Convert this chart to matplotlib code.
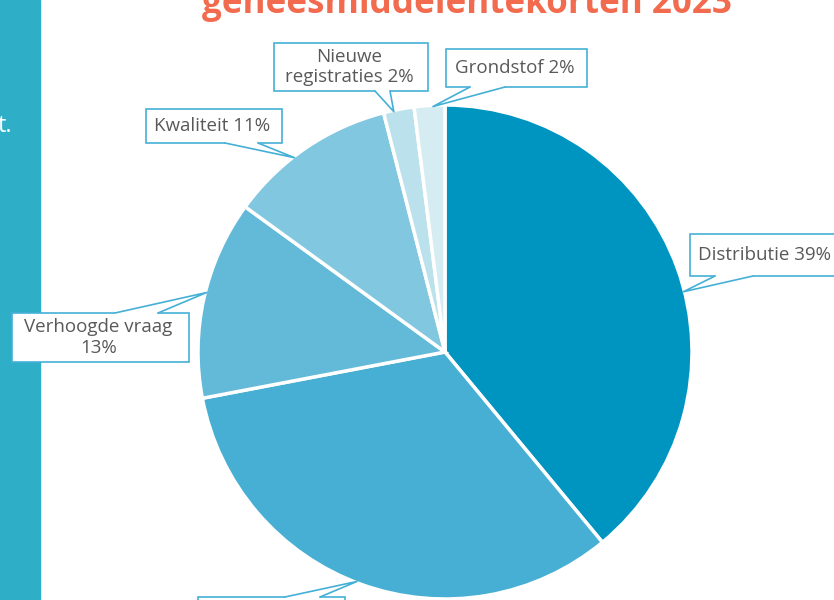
import numpy as np
import matplotlib.pyplot as plt
from matplotlib.patches import Rectangle, Polygon

# oorzaken geneesmiddelentekorten 2023
labels = ["Distributie 39%", "Productie 33%", "Verhoogde vraag\n13%", "Kwaliteit 11%",
          "Nieuwe\nregistraties 2%", "Grondstof 2%"]
values = [39, 33, 13, 11, 2, 2]
colors = ["#0095C1", "#47AFD3", "#62BAD8", "#82C7E0", "#BBE1EC", "#D5ECF3"]

W, H = 834, 600
cx, cy, R = 445, 352, 247   # pie centre / radius in pixels

def px(x, y):
    # pixel position -> data coords (pie radius = 1)
    return (x - cx) / R, (cy - y) / R

# callout boxes in pixels: (x0, y0, x1, y1), side of the pointer, pointer base
boxes = [(690, 234, 850, 276), (198, 597, 345, 645), (12, 313, 189, 362),
         (146, 109, 282, 143), (274, 43, 428, 91), (446, 49, 587, 87)]
sides = ["bottom", "top", "top", "bottom", "bottom", "bottom"]
bases = [(715, 753), (285, 320), (115, 158), (225, 258), (375, 390), (470, 505)]
tip_frac = [0.54, 0.51, 0.53, 0.41, 0.33, 0.61]   # where the pointer hits the slice

edge = "#45B0D6"
plt.rcParams['font.family'] = ['Open Sans', 'DejaVu Sans']

fig = plt.figure(figsize=(W / 100, H / 100), dpi=100)
ax = fig.add_axes([0, 0, 1, 1])

wedges, _ = ax.pie(values, colors=colors, startangle=90, counterclock=False,
                   radius=1, wedgeprops=dict(edgecolor="white", linewidth=2.5))

for w, lab, (x0, y0, x1, y1), side, (b0, b1), f in zip(wedges, labels, boxes, sides,
                                                        bases, tip_frac):
    ang = np.deg2rad(w.theta2 - f * (w.theta2 - w.theta1))
    tip = (0.995 * np.cos(ang), 0.995 * np.sin(ang))
    by = y1 if side == "bottom" else y0
    inner = -2 if side == "bottom" else 2
    bl, br = px(b0, by), px(b1, by)
    ax.add_patch(Rectangle(px(x0, y1), (x1 - x0) / R, (y1 - y0) / R, fc="white",
                           ec=edge, lw=1.2, zorder=3, clip_on=False))
    ax.add_patch(Polygon([px(b0, by + inner), bl, tip, br, px(b1, by + inner)],
                         fc="white", ec="none", zorder=4, clip_on=False))
    ax.plot([bl[0], tip[0], br[0]], [bl[1], tip[1], br[1]], color=edge, lw=1.2,
            zorder=5, clip_on=False)
    tx, ty = px((x0 + min(x1, W + 10)) / 2 - 2, (y0 + y1) / 2)
    ax.text(tx, ty, lab, ha="center", va="center", fontsize=13.5, color="#595959",
            linespacing=1.15, zorder=6)

ax.set_aspect("auto")
ax.set_xlim(-cx / R, (W - cx) / R)
ax.set_ylim((cy - H) / R, cy / R)
ax.axis("off")

# linkerbalk en (afgesneden) titel
fig.patches.append(Rectangle((0, 0), 40 / W, 1, transform=fig.transFigure,
                             color="#2EAFC7", zorder=-1))
fig.text(12 / W, 1 - 132 / H, "t.", color="white", fontsize=17, ha="right",
         va="baseline")
fig.text(467 / W, 1 - 13 / H, "geneesmiddelentekorten 2023", color="#F26B4E",
         fontsize=25.2, fontweight="bold", ha="center", va="baseline")

fig.savefig("out.png", dpi=100)
